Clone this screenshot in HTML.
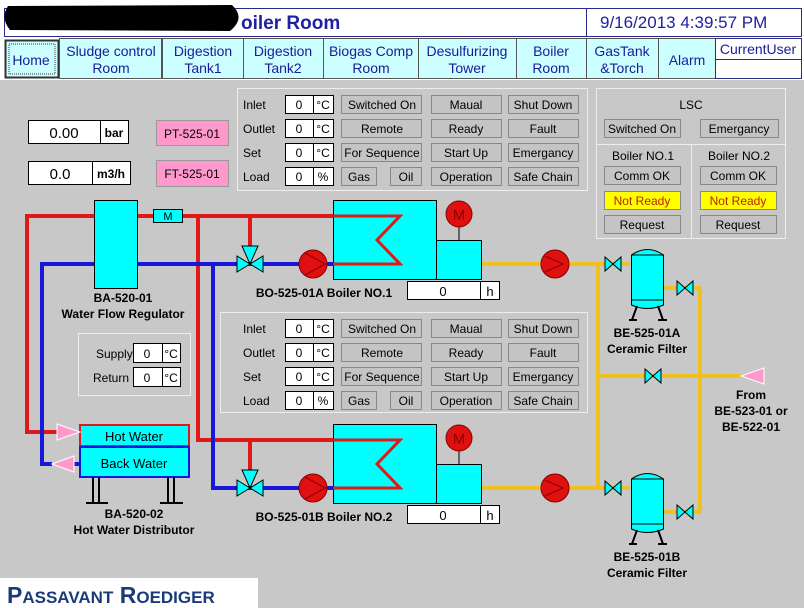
<!DOCTYPE html>
<html><head><meta charset="utf-8"><style>
html,body{margin:0;padding:0;background:#c8c8c8;}
svg{display:block;font-family:"Liberation Sans",Tahoma,sans-serif;}
.l{font-size:12px;fill:#000}
.b{font-size:12px;font-weight:bold;fill:#000}
.btn{fill:#c4c4c4;stroke:#888;stroke-width:1}
</style></head><body>
<svg width="804" height="608" viewBox="0 0 804 608" xmlns="http://www.w3.org/2000/svg">
<rect width="804" height="608" fill="#c8c8c8"/>
<rect x="0" y="0" width="804" height="37" fill="#fff"/>
<rect x="4.5" y="8.5" width="797" height="28" fill="#fff" stroke="#2a2a8a"/>
<line x1="586.5" y1="8" x2="586.5" y2="37" stroke="#2a2a8a"/>
<path d="M8,6 Q0,18 10,30 L230,31 Q246,18 232,5 Z" fill="#000"/>
<text x="241" y="29" font-size="19" font-weight="bold" fill="#2020a0">oiler Room</text>
<text x="600" y="28" font-size="17" fill="#2020a0">9/16/2013 4:39:57 PM</text>
<rect x="0" y="37" width="804" height="43" fill="#fff"/>
<g fill="#ccffff" stroke="#555">
<rect x="5.5" y="40.5" width="53" height="37" stroke="#333" stroke-width="2"/>
<rect x="59.5" y="38.5" width="102" height="40"/>
<rect x="162.5" y="38.5" width="81" height="40"/>
<rect x="243.5" y="38.5" width="80" height="40"/>
<rect x="323.5" y="38.5" width="95" height="40"/>
<rect x="418.5" y="38.5" width="98" height="40"/>
<rect x="516.5" y="38.5" width="70" height="40"/>
<rect x="586.5" y="38.5" width="72" height="40"/>
<rect x="658.5" y="38.5" width="57" height="40"/>
</g>
<rect x="9" y="44" width="46" height="30" fill="none" stroke="#333" stroke-dasharray="1,1"/>
<rect x="715.5" y="38.5" width="86" height="40" fill="#fff" stroke="#2a2a8a"/>
<line x1="716" y1="59.5" x2="801" y2="59.5" stroke="#2a2a8a"/>
<g font-size="14" fill="#1a1a9a" text-anchor="middle">
<text x="31" y="65">Home</text>
<text x="111" y="56">Sludge control</text><text x="111" y="73">Room</text>
<text x="203" y="56">Digestion</text><text x="203" y="73">Tank1</text>
<text x="283" y="56">Digestion</text><text x="283" y="73">Tank2</text>
<text x="371" y="56">Biogas Comp</text><text x="371" y="73">Room</text>
<text x="467" y="56">Desulfurizing</text><text x="467" y="73">Tower</text>
<text x="551" y="56">Boiler</text><text x="551" y="73">Room</text>
<text x="622" y="56">GasTank</text><text x="622" y="73">&amp;Torch</text>
<text x="687" y="65">Alarm</text>
<text x="758" y="54">CurrentUser</text>
</g>
<rect x="28.5" y="120.5" width="100" height="23" fill="#fff" stroke="#000"/>
<line x1="100.5" y1="120" x2="100.5" y2="143" stroke="#000"/>
<text x="64" y="138" font-size="15" text-anchor="middle">0.00</text>
<text x="114" y="137" class="b" text-anchor="middle">bar</text>
<rect x="28.5" y="161.5" width="102" height="23" fill="#fff" stroke="#000"/>
<line x1="92.5" y1="161" x2="92.5" y2="184" stroke="#000"/>
<text x="60" y="179" font-size="15" text-anchor="middle">0.0</text>
<text x="111" y="178" class="b" text-anchor="middle">m3/h</text>
<rect x="156.5" y="120.5" width="72" height="25" fill="#ff99cc" stroke="#999"/>
<text x="192" y="138" class="l" text-anchor="middle" fill="#333">PT-525-01</text>
<rect x="156.5" y="160.5" width="72" height="26" fill="#ff99cc" stroke="#999"/>
<text x="192" y="178" class="l" text-anchor="middle">FT-525-01</text>

<rect x="237.5" y="88.5" width="350" height="102" fill="none" stroke="#eee"/>
<text x="243" y="109" class="l">Inlet</text><text x="243" y="133" class="l">Outlet</text><text x="243" y="157" class="l">Set</text><text x="243" y="181" class="l">Load</text>
<g fill="#fff" stroke="#000">
<rect x="285.5" y="95.5" width="28" height="18"/><rect x="313.5" y="95.5" width="20" height="18"/>
<rect x="285.5" y="119.5" width="28" height="18"/><rect x="313.5" y="119.5" width="20" height="18"/>
<rect x="285.5" y="143.5" width="28" height="18"/><rect x="313.5" y="143.5" width="20" height="18"/>
<rect x="285.5" y="167.5" width="28" height="18"/><rect x="313.5" y="167.5" width="20" height="18"/>
</g>
<g font-size="12" text-anchor="middle">
<text x="299" y="109">0</text><text x="323" y="109">°C</text>
<text x="299" y="133">0</text><text x="323" y="133">°C</text>
<text x="299" y="157">0</text><text x="323" y="157">°C</text>
<text x="299" y="181">0</text><text x="323" y="181">%</text>
</g>
<g class="btn">
<rect x="341.5" y="95.5" width="80" height="18"/><rect x="431.5" y="95.5" width="70" height="18"/><rect x="508.5" y="95.5" width="70" height="18"/>
<rect x="341.5" y="119.5" width="80" height="18"/><rect x="431.5" y="119.5" width="70" height="18"/><rect x="508.5" y="119.5" width="70" height="18"/>
<rect x="341.5" y="143.5" width="80" height="18"/><rect x="431.5" y="143.5" width="70" height="18"/><rect x="508.5" y="143.5" width="70" height="18"/>
<rect x="341.5" y="167.5" width="35" height="18"/><rect x="390.5" y="167.5" width="31" height="18"/><rect x="431.5" y="167.5" width="70" height="18"/><rect x="508.5" y="167.5" width="70" height="18"/>
</g>
<g font-size="12" text-anchor="middle">
<text x="382" y="109">Switched On</text><text x="466" y="109">Maual</text><text x="543" y="109">Shut Down</text>
<text x="382" y="133">Remote</text><text x="466" y="133">Ready</text><text x="543" y="133">Fault</text>
<text x="382" y="157">For Sequence</text><text x="466" y="157">Start Up</text><text x="543" y="157">Emergancy</text>
<text x="359" y="181">Gas</text><text x="406" y="181">Oil</text><text x="466" y="181">Operation</text><text x="543" y="181">Safe Chain</text>
</g>

<rect x="596.5" y="88.5" width="189" height="150" fill="none" stroke="#eee"/>
<line x1="596" y1="144.5" x2="786" y2="144.5" stroke="#eee"/>
<line x1="691.5" y1="144" x2="691.5" y2="238" stroke="#eee"/>
<g class="btn">
<rect x="604.5" y="119.5" width="76" height="18"/><rect x="700.5" y="119.5" width="78" height="18"/>
<rect x="604.5" y="166.5" width="76" height="18"/><rect x="700.5" y="166.5" width="76" height="18"/>
<rect x="604.5" y="215.5" width="76" height="18"/><rect x="700.5" y="215.5" width="76" height="18"/>
</g>
<rect x="604.5" y="191.5" width="76" height="18" fill="#ffff00" stroke="#888"/>
<rect x="700.5" y="191.5" width="76" height="18" fill="#ffff00" stroke="#888"/>
<g font-size="12" text-anchor="middle">
<text x="691" y="109">LSC</text>
<text x="642" y="133">Switched On</text><text x="739" y="133">Emergancy</text>
<text x="643" y="160">Boiler NO.1</text><text x="739" y="160">Boiler NO.2</text>
<text x="642" y="180">Comm OK</text><text x="738" y="180">Comm OK</text>
<text x="642" y="205" fill="#c02000">Not Ready</text><text x="738" y="205" fill="#c02000">Not Ready</text>
<text x="642" y="229">Request</text><text x="738" y="229">Request</text>
</g>

<rect x="220.5" y="312.5" width="367" height="100" fill="none" stroke="#eee"/>
<text x="243" y="333" class="l">Inlet</text><text x="243" y="357" class="l">Outlet</text><text x="243" y="381" class="l">Set</text><text x="243" y="405" class="l">Load</text>
<g fill="#fff" stroke="#000">
<rect x="285.5" y="319.5" width="28" height="18"/><rect x="313.5" y="319.5" width="20" height="18"/>
<rect x="285.5" y="343.5" width="28" height="18"/><rect x="313.5" y="343.5" width="20" height="18"/>
<rect x="285.5" y="367.5" width="28" height="18"/><rect x="313.5" y="367.5" width="20" height="18"/>
<rect x="285.5" y="391.5" width="28" height="18"/><rect x="313.5" y="391.5" width="20" height="18"/>
</g>
<g font-size="12" text-anchor="middle">
<text x="299" y="333">0</text><text x="323" y="333">°C</text>
<text x="299" y="357">0</text><text x="323" y="357">°C</text>
<text x="299" y="381">0</text><text x="323" y="381">°C</text>
<text x="299" y="405">0</text><text x="323" y="405">%</text>
</g>
<g class="btn">
<rect x="341.5" y="319.5" width="80" height="18"/><rect x="431.5" y="319.5" width="70" height="18"/><rect x="508.5" y="319.5" width="70" height="18"/>
<rect x="341.5" y="343.5" width="80" height="18"/><rect x="431.5" y="343.5" width="70" height="18"/><rect x="508.5" y="343.5" width="70" height="18"/>
<rect x="341.5" y="367.5" width="80" height="18"/><rect x="431.5" y="367.5" width="70" height="18"/><rect x="508.5" y="367.5" width="70" height="18"/>
<rect x="341.5" y="391.5" width="35" height="18"/><rect x="390.5" y="391.5" width="31" height="18"/><rect x="431.5" y="391.5" width="70" height="18"/><rect x="508.5" y="391.5" width="70" height="18"/>
</g>
<g font-size="12" text-anchor="middle">
<text x="382" y="333">Switched On</text><text x="466" y="333">Maual</text><text x="543" y="333">Shut Down</text>
<text x="382" y="357">Remote</text><text x="466" y="357">Ready</text><text x="543" y="357">Fault</text>
<text x="382" y="381">For Sequence</text><text x="466" y="381">Start Up</text><text x="543" y="381">Emergancy</text>
<text x="359" y="405">Gas</text><text x="406" y="405">Oil</text><text x="466" y="405">Operation</text><text x="543" y="405">Safe Chain</text>
</g>

<rect x="78.5" y="333.5" width="112" height="62" fill="none" stroke="#eee"/>
<text x="96" y="358" class="l">Supply</text><text x="93" y="382" class="l">Return</text>
<g fill="#fff" stroke="#000">
<rect x="133.5" y="343.5" width="29" height="19"/><rect x="162.5" y="343.5" width="18" height="19"/>
<rect x="133.5" y="367.5" width="29" height="19"/><rect x="162.5" y="367.5" width="18" height="19"/>
</g>
<g font-size="12" text-anchor="middle">
<text x="147" y="358">0</text><text x="171" y="358">°C</text>
<text x="147" y="382">0</text><text x="171" y="382">°C</text>
</g>

<g stroke="#f0c020" stroke-width="4" fill="none">
<path d="M481,264 H630"/><path d="M481,488 H630"/>
<path d="M598,264 V488"/><path d="M598,376 H742"/>
<path d="M664,288 H700 V512 H664"/>
</g>
<g stroke="#e01818" stroke-width="4" fill="none">
<path d="M94,216 H27 V432 H60"/>
<path d="M137,216 H400 L377,240 L400,264 H335"/>
<path d="M198,216 V440 H400 L377,464 L400,488 H335"/>
<path d="M250,216 V256"/><path d="M250,440 V480"/>
</g>
<g stroke="#1818d8" stroke-width="4" fill="none">
<path d="M94,264 H42 V464 H52"/>
<path d="M137,264 H335"/>
<path d="M213,264 V488 H335"/>
<path d="M74,464 H80"/>
</g>
<rect x="94.5" y="200.5" width="43" height="88" fill="#00ffff" stroke="#000"/>
<rect x="153.5" y="209.5" width="29" height="13" fill="#00ffff" stroke="#000"/>
<text x="168" y="220" font-size="11" text-anchor="middle">M</text>
<text x="123" y="302" class="b" text-anchor="middle">BA-520-01</text>
<text x="123" y="318" class="b" text-anchor="middle">Water Flow Regulator</text>
<rect x="80" y="425" width="109" height="21" fill="#00ffff" stroke="#e01818" stroke-width="2"/>
<rect x="80" y="447" width="109" height="30" fill="#00ffff" stroke="#1818d8" stroke-width="2"/>
<text x="134" y="441" font-size="13" text-anchor="middle">Hot Water</text>
<text x="134" y="468" font-size="13" text-anchor="middle">Back Water</text>
<polygon points="57,424 80,432 57,440" fill="#ff99cc" stroke="#fff"/>
<polygon points="52,464 74,456 74,472" fill="#ff99cc" stroke="#fff"/>
<g stroke="#000" stroke-width="2">
<path d="M93,477 V503 M99,477 V503 M168,477 V503 M174,477 V503"/>
<path d="M86,503 H108 M160,503 H183"/>
</g>
<text x="134" y="518" class="b" text-anchor="middle">BA-520-02</text>
<text x="134" y="534" class="b" text-anchor="middle">Hot Water Distributor</text>

<g stroke="#000" fill="#00ffff">
<rect x="333.5" y="200.5" width="103" height="79"/><rect x="436.5" y="240.5" width="45" height="39"/>
<rect x="333.5" y="424.5" width="103" height="79"/><rect x="436.5" y="464.5" width="45" height="39"/>
<path d="M459,226 V240 M459,450 V464"/>
</g>
<g stroke="#e01818" stroke-width="3" fill="none">
<path d="M333,216 H400 L377,240 L400,264 H333"/>
<path d="M333,440 H400 L377,464 L400,488 H333"/>
</g>
<g fill="#e01010" stroke="#800">
<circle cx="459" cy="214" r="13"/><circle cx="459" cy="438" r="13"/>
</g>
<text x="459" y="220" font-size="15" text-anchor="middle" fill="#800">M</text>
<text x="459" y="444" font-size="15" text-anchor="middle" fill="#800">M</text>
<g fill="#e01010" stroke="#800">
<circle cx="313" cy="264" r="14"/><circle cx="313" cy="488" r="14"/>
<circle cx="555" cy="264" r="14"/><circle cx="555" cy="488" r="14"/>
</g>
<g fill="none" stroke="#800">
<path d="M305,253 L325,264 L305,275"/><path d="M305,477 L325,488 L305,499"/>
<path d="M545,256 L563,264 L545,272"/><path d="M545,480 L563,488 L545,496"/>
</g>
<g fill="#00ffff" stroke="#000">
<polygon points="237,256 263,272 263,256 237,272"/><polygon points="242,246 258,246 250,264"/>
<polygon points="237,480 263,496 263,480 237,496"/><polygon points="242,470 258,470 250,488"/>
</g>
<rect x="407.5" y="281.5" width="92" height="18" fill="#fff" stroke="#000"/><line x1="480.5" y1="281" x2="480.5" y2="299" stroke="#000"/>
<text x="443" y="296" font-size="13" text-anchor="middle">0</text><text x="490" y="296" font-size="13" text-anchor="middle">h</text>
<rect x="407.5" y="505.5" width="92" height="18" fill="#fff" stroke="#000"/><line x1="480.5" y1="505" x2="480.5" y2="523" stroke="#000"/>
<text x="443" y="520" font-size="13" text-anchor="middle">0</text><text x="490" y="520" font-size="13" text-anchor="middle">h</text>
<text x="324" y="297" class="b" text-anchor="middle">BO-525-01A Boiler NO.1</text>
<text x="324" y="521" class="b" text-anchor="middle">BO-525-01B Boiler NO.2</text>

<g fill="#00ffff" stroke="#000">
<polygon points="605,257 621,271 621,257 605,271"/>
<polygon points="677,281 693,295 693,281 677,295"/>
<polygon points="645,369 661,383 661,369 645,383"/>
<polygon points="605,481 621,495 621,481 605,495"/>
<polygon points="677,505 693,519 693,505 677,519"/>
</g>
<g fill="#00ffff" stroke="#000">
<path d="M631.5,305 V255 Q647.5,244 663.5,255 V305 Q647.5,312 631.5,305 Z"/>
<line x1="631" y1="255" x2="664" y2="255"/><line x1="631" y1="300" x2="664" y2="300"/>
<path d="M631.5,529 V479 Q647.5,468 663.5,479 V529 Q647.5,536 631.5,529 Z"/>
<line x1="631" y1="479" x2="664" y2="479"/><line x1="631" y1="524" x2="664" y2="524"/>
</g>
<g stroke="#000" stroke-width="2">
<path d="M637,306 L632,320 M658,306 L663,320 M629,320 H637 M658,320 H667"/>
<path d="M637,530 L632,544 M658,530 L663,544 M629,544 H637 M658,544 H667"/>
</g>
<text x="647" y="337" class="b" text-anchor="middle">BE-525-01A</text>
<text x="647" y="353" class="b" text-anchor="middle">Ceramic Filter</text>
<text x="647" y="561" class="b" text-anchor="middle">BE-525-01B</text>
<text x="647" y="577" class="b" text-anchor="middle">Ceramic Filter</text>
<polygon points="741,376 764,368 764,384" fill="#ff99cc" stroke="#fff"/>
<text x="751" y="399" class="b" text-anchor="middle">From</text>
<text x="751" y="415" class="b" text-anchor="middle">BE-523-01 or</text>
<text x="751" y="431" class="b" text-anchor="middle">BE-522-01</text>

<rect x="0" y="578" width="258" height="30" fill="#fff"/>
<text x="7" y="603" font-size="23" font-weight="bold" fill="#1a3a7a">P<tspan font-size="17">ASSAVANT</tspan> R<tspan font-size="17">OEDIGER</tspan></text>
</svg>
</body></html>
